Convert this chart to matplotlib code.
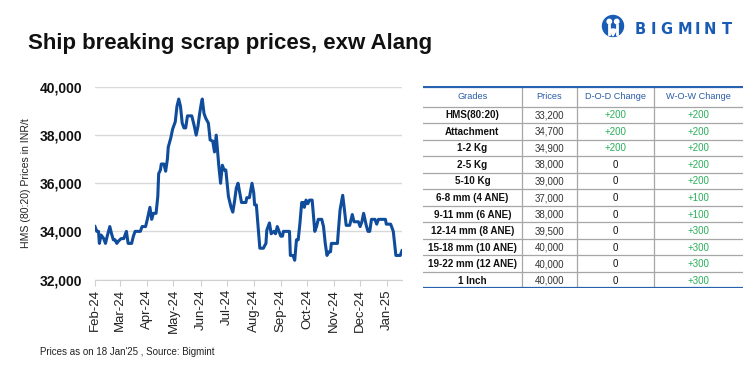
import numpy as np
import pandas as pd
import matplotlib
matplotlib.use("Agg")
import matplotlib.pyplot as plt
import matplotlib.dates as mdates
from matplotlib.patches import Circle, Wedge
from matplotlib.ticker import FuncFormatter

plt.rcParams['font.family'] = ['Liberation Sans', 'DejaVu Sans']

# HMS (80:20) price series
dates = ['2024-02-01', '2024-02-03', '2024-02-05', '2024-02-06', '2024-02-08',
         '2024-02-11', '2024-02-13', '2024-02-15', '2024-02-18', '2024-02-20',
         '2024-02-22', '2024-02-24', '2024-02-26', '2024-02-28', '2024-03-02',
         '2024-03-05', '2024-03-08', '2024-03-10', '2024-03-14', '2024-03-16',
         '2024-03-18', '2024-03-24', '2024-03-26', '2024-03-30', '2024-04-01',
         '2024-04-04', '2024-04-06', '2024-04-08', '2024-04-11', '2024-04-13',
         '2024-04-14', '2024-04-16', '2024-04-17', '2024-04-20', '2024-04-22',
         '2024-04-24', '2024-04-25', '2024-04-28', '2024-04-30', '2024-05-01',
         '2024-05-03', '2024-05-05', '2024-05-07', '2024-05-09', '2024-05-11',
         '2024-05-13', '2024-05-15', '2024-05-17', '2024-05-22', '2024-05-25',
         '2024-05-27', '2024-05-29', '2024-05-31', '2024-06-02', '2024-06-03',
         '2024-06-05', '2024-06-07', '2024-06-10', '2024-06-12', '2024-06-15',
         '2024-06-17', '2024-06-19', '2024-06-21', '2024-06-22', '2024-06-24',
         '2024-06-26', '2024-06-28', '2024-06-30', '2024-07-03', '2024-07-06',
         '2024-07-08', '2024-07-10', '2024-07-12', '2024-07-14', '2024-07-16',
         '2024-07-18', '2024-07-23', '2024-07-24', '2024-07-27', '2024-07-30',
         '2024-08-01', '2024-08-02', '2024-08-04', '2024-08-06', '2024-08-08',
         '2024-08-12', '2024-08-15', '2024-08-16', '2024-08-19', '2024-08-21',
         '2024-08-24', '2024-08-26', '2024-08-28', '2024-08-30', '2024-09-01',
         '2024-09-03', '2024-09-04', '2024-09-11', '2024-09-12', '2024-09-15',
         '2024-09-17', '2024-09-19', '2024-09-21', '2024-09-23', '2024-09-25',
         '2024-09-27', '2024-09-28', '2024-09-30', '2024-10-02', '2024-10-04',
         '2024-10-07', '2024-10-10', '2024-10-12', '2024-10-14', '2024-10-18',
         '2024-10-20', '2024-10-22', '2024-10-24', '2024-10-26', '2024-10-28',
         '2024-10-29', '2024-11-05', '2024-11-06', '2024-11-08', '2024-11-11',
         '2024-11-13', '2024-11-15', '2024-11-19', '2024-11-22', '2024-11-24',
         '2024-11-29', '2024-12-01', '2024-12-03', '2024-12-05', '2024-12-08',
         '2024-12-10', '2024-12-12', '2024-12-14', '2024-12-18', '2024-12-20',
         '2024-12-22', '2024-12-30', '2024-12-31', '2025-01-05', '2025-01-08',
         '2025-01-11', '2025-01-16', '2025-01-18']
prices = [34200, 34000, 34000, 33500, 33850, 33700, 33500, 33800, 34200, 33900,
          33650, 33650, 33500, 33600, 33700, 33700, 34000, 33500, 33500, 33800,
          34000, 34000, 34200, 34200, 34500, 35000, 34500, 34750, 34750, 35450,
          36400, 36550, 36800, 36800, 36500, 37000, 37500, 37900, 38250, 38350,
          38550, 39200, 39500, 39200, 38500, 38300, 38300, 38800, 38800, 38350,
          38000, 38350, 38900, 39350, 39500, 38900, 38700, 38500, 37800, 37750,
          37300, 38000, 37100, 36700, 36000, 36750, 36550, 36550, 35450, 35000,
          34800, 35250, 35800, 36000, 35600, 35200, 35200, 35400, 35400, 36000,
          35600, 35100, 35100, 34200, 33300, 33300, 33500, 34050, 34350, 33900,
          34000, 33900, 34200, 34000, 33800, 33800, 34000, 34000, 33000, 33000,
          32800, 33650, 33650, 34350, 35200, 35200, 35000, 35300, 35150, 35300,
          35300, 34000, 34200, 34500, 34500, 34200, 33500, 33000, 33150, 33150,
          33500, 33500, 34000, 34900, 35500, 34900, 34250, 34250, 34700, 34400,
          34400, 34200, 34400, 34750, 34250, 34000, 34000, 34500, 34500, 34300,
          34500, 34500, 34300, 34300, 34000, 33000, 33000, 33200]

# table on the right
grades = ['HMS(80:20)', 'Attachment', '1-2 Kg', '2-5 Kg', '5-10 Kg',
          '6-8 mm (4 ANE)', '9-11 mm (6 ANE)', '12-14 mm (8 ANE)',
          '15-18 mm (10 ANE)', '19-22 mm (12 ANE)', '1 Inch']
grade_prices = ['33,200', '34,700', '34,900', '38,000', '39,000', '37,000',
                '38,000', '39,500', '40,000', '40,000', '40,000']
dod_change = ['+200', '+200', '+200', '0', '0', '0', '0', '0', '0', '0', '0']
wow_change = ['+200', '+200', '+200', '+200', '+200', '+100', '+100', '+300',
              '+300', '+300', '+300']
headers = ['Grades', 'Prices', 'D-O-D Change', 'W-O-W Change']

LINE_BLUE = '#0F4C9C'
LOGO_BLUE = '#1A5BB5'
GREEN = '#2AAE5A'
W, H = 756, 374

fig = plt.figure(figsize=(W / 100, H / 100), dpi=100)
fig.patch.set_facecolor('white')

# ---- line chart
x = pd.to_datetime(dates)
ax = fig.add_axes([95 / W, 1 - 279.5 / H, (402 - 95) / W, (279.5 - 87) / H])
ax.plot(x, prices, color=LINE_BLUE, lw=2.2, solid_joinstyle='round')
ax.set_ylim(32000, 40000)
ax.set_yticks([32000, 34000, 36000, 38000, 40000])
ax.yaxis.set_major_formatter(FuncFormatter(lambda v, p: f'{v:,.0f}'))
ax.set_xlim(x[0], x[-1])
ax.xaxis.set_major_locator(mdates.MonthLocator())
ax.xaxis.set_major_formatter(mdates.DateFormatter('%b-%y'))
ax.grid(axis='y', color='#d9d9d9', lw=1)
ax.set_axisbelow(True)
for s in ['top', 'right', 'left']:
    ax.spines[s].set_visible(False)
ax.spines['bottom'].set_color('#d0d0d0')
ax.tick_params(axis='y', length=0, pad=9, labelsize=10, labelcolor='#111111')
ax.tick_params(axis='x', length=4, color='#d0d0d0', pad=3, labelsize=9.5,
               labelcolor='#222222', labelrotation=90)
for lbl in ax.get_yticklabels():
    lbl.set_fontweight('bold')
ax.set_ylabel('HMS (80:20) Prices in INR/t', fontsize=7.6, color='#222222')
ax.yaxis.set_label_coords(-0.21, 0.5)

# ---- title, footer
fig.text(28 / W, 1 - 49.5 / H, 'Ship breaking scrap prices, exw Alang',
         fontsize=16, fontweight='bold', color='#111111', va='baseline')
fig.text(40 / W, 1 - 355 / H, "Prices as on 18 Jan'25 , Source: Bigmint",
         fontsize=7, color='#222222', va='baseline')

# ---- logo
lax = fig.add_axes([599 / W, 1 - 38 / H, 28 / W, 24 / H])
lax.set_xlim(0, 28)
lax.set_ylim(0, 24)
lax.set_aspect('equal')
lax.axis('off')
lax.add_patch(Circle((14, 12), 10.5, color=LOGO_BLUE))
lax.add_patch(Circle((10.3, 16.5), 2.2, color='white'))
lax.add_patch(Circle((17.7, 16.5), 2.2, color='white'))
lax.add_patch(Wedge((14, 2), 7, 60, 120, color='white'))
lax.plot([10.3, 10.3], [4.5, 13.5], color='white', lw=2)
lax.plot([17.7, 17.7], [4.5, 13.5], color='white', lw=2)
logo_x = [635, 651, 660, 678, 695, 704, 722]
for ch, lx in zip('BIGMINT', logo_x):
    fig.text(lx / W, 1 - 33.5 / H, ch, fontsize=10.5, fontweight='heavy',
             color=LOGO_BLUE, va='baseline', family='DejaVu Sans')

# ---- table
t_left, t_right, t_top, t_bot = 423, 743, 85.7, 288.3
tax = fig.add_axes([t_left / W, 1 - t_bot / H, (t_right - t_left) / W,
                    (t_bot - t_top) / H])
tax.set_xlim(0, t_right - t_left)
tax.set_ylim(t_bot - t_top, 0)
tax.axis('off')
col_edges = [0, 98.7, 153.7, 231.3, 320]
head_h = 21
row_h = (t_bot - t_top - head_h) / len(grades)
col_mid = [(col_edges[i] + col_edges[i + 1]) / 2 for i in range(4)]

for xe in col_edges[1:-1]:
    tax.plot([xe, xe], [0, t_bot - t_top], color='#a6a6a6', lw=0.9)
for i in range(1, len(grades)):
    yy = head_h + i * row_h
    tax.plot([0, 320], [yy, yy], color='#a6a6a6', lw=0.9)
tax.plot([0, 320], [head_h, head_h], color='#a6a6a6', lw=0.9)
tax.plot([0, 320], [0.8, 0.8], color='#2762AE', lw=1.6, solid_capstyle='butt')
tax.plot([0, 320], [t_bot - t_top - 0.8] * 2, color='#2762AE', lw=1.6,
         solid_capstyle='butt')

for cm, h in zip(col_mid, headers):
    tax.text(cm, head_h / 2 + 3.2, h, ha='center', va='baseline', fontsize=6.6,
             color='#2A5CA8')

for i in range(len(grades)):
    yb = head_h + (i + 0.5) * row_h + 3.5
    tax.text(col_mid[0], yb, grades[i], ha='center', va='baseline',
             fontsize=7.1, fontweight='bold', color='#111111')
    tax.text(col_mid[1], yb, grade_prices[i], ha='center', va='baseline',
             fontsize=7, color='#333333')
    for j, val in ((2, dod_change[i]), (3, wow_change[i])):
        c = GREEN if val.startswith('+') else '#111111'
        tax.text(col_mid[j], yb, val, ha='center', va='baseline', fontsize=7,
                 color=c)

fig.savefig('out.png', dpi=100)
